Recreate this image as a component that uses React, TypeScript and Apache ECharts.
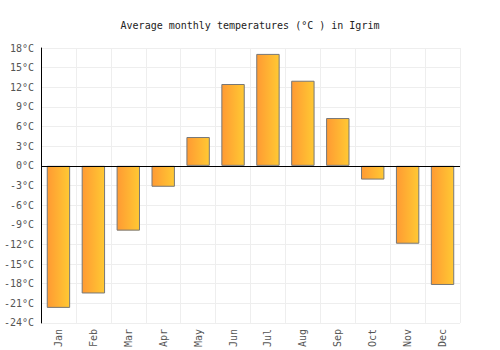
import React, { useEffect, useRef } from "react";
import * as echarts from "echarts";

const months = ["Jan", "Feb", "Mar", "Apr", "May", "Jun", "Jul", "Aug", "Sep", "Oct", "Nov", "Dec"];
const temps = [-21.7, -19.5, -9.9, -3.2, 4.4, 12.5, 17.1, 13.0, 7.3, -2.1, -11.9, -18.2];
const titleText = "Average monthly temperatures (°C ) in Igrim";

export default function App() {
  const ref = useRef<HTMLDivElement>(null);
  useEffect(() => {
    if (!ref.current) return;
    const chart = echarts.init(ref.current, null, { renderer: "svg" });
    const font = "'DejaVu Sans Mono', monospace";
    chart.setOption({
      animation: false,
      title: {
        text: titleText,
        left: "center",
        top: 15,
        textStyle: { fontFamily: font, fontSize: 10, fontWeight: "normal", color: "#222" },
      },
      grid: { left: 41, right: 40, top: 48, bottom: 27 },
      xAxis: {
        type: "category",
        data: months,
        axisLine: { show: false, onZero: false },
        axisTick: { show: false },
        splitLine: { show: true, lineStyle: { color: "#eeeeee", width: 1 } },
        axisLabel: {
          rotate: 90,
          interval: 0,
          margin: 6,
          fontFamily: font,
          fontSize: 10,
          color: "#555",
        },
      },
      yAxis: {
        type: "value",
        min: -24,
        max: 18,
        interval: 3,
        axisLine: { show: true, lineStyle: { color: "#000", width: 1 } },
        axisTick: { show: false },
        splitLine: { show: true, lineStyle: { color: "#eeeeee", width: 1 } },
        axisLabel: {
          formatter: "{value}°C",
          fontFamily: font,
          fontSize: 10,
          color: "#555",
          margin: 7,
        },
      },
      series: [
        {
          type: "bar",
          data: temps,
          barCategoryGap: "33%",
          itemStyle: {
            color: new echarts.graphic.LinearGradient(0, 0, 1, 0, [
              { offset: 0, color: "#ff9a33" },
              { offset: 1, color: "#ffc933" },
            ]),
            borderColor: "#777",
            borderWidth: 1,
          },
          markLine: {
            silent: true,
            symbol: "none",
            label: { show: false },
            lineStyle: { color: "#000", width: 1, type: "solid" },
            data: [{ yAxis: 0 }],
          },
        },
      ],
    });
    return () => chart.dispose();
  }, []);
  return <div ref={ref} style={{ width: 500, height: 350, position: "absolute", left: 0, top: 0 }} />;
}
